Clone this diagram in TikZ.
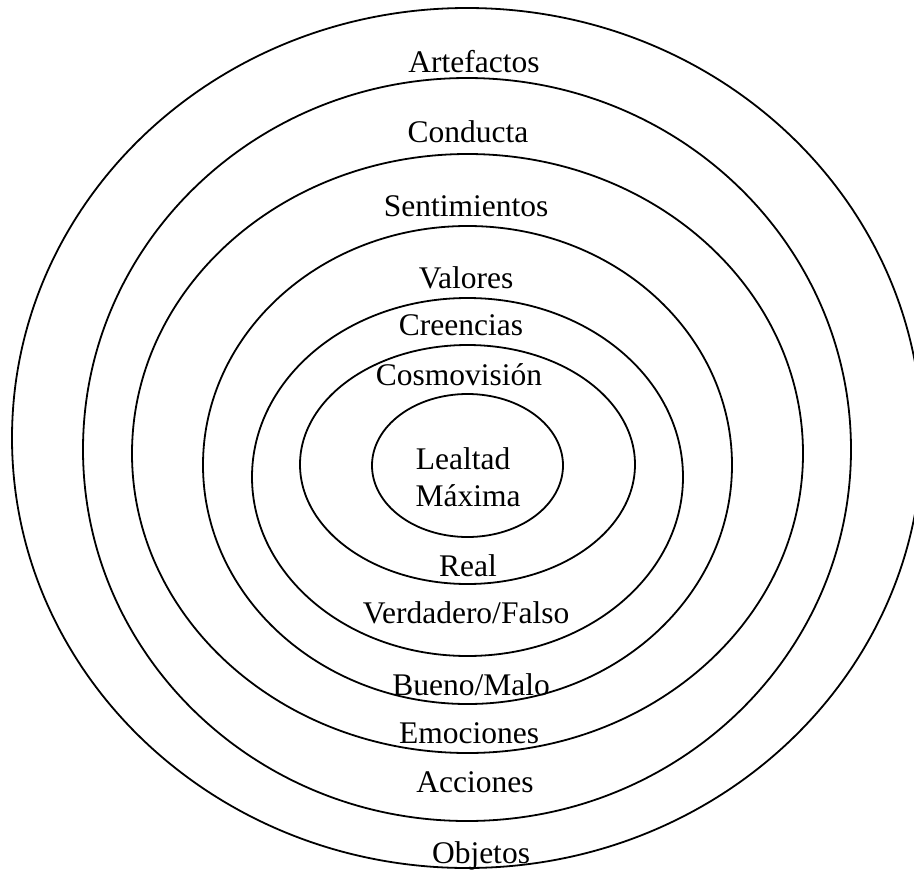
\documentclass[tikz,border=0pt]{standalone}
\usepackage{fontspec}
\setmainfont{Liberation Serif}
\begin{document}
\begin{tikzpicture}[x=1pt,y=-1pt,
  ring/.style={draw=black,line width=1.8pt},
  lbl/.style={anchor=base,inner sep=0pt,font=\fontsize{31.5}{37}\selectfont}]
\useasboundingbox (0,0) rectangle (914,871);
\clip (0,0) rectangle (914,871);
% rings
\draw[ring] (467,438) ellipse [x radius=455, y radius=430];
\draw[ring] (467,449.5) ellipse [x radius=384, y radius=371.5];
\draw[ring] (467.5,453.5) ellipse [x radius=335.5, y radius=299.5];
\draw[ring] (467.5,465) ellipse [x radius=264.5, y radius=239];
\draw[ring] (467.5,477) ellipse [x radius=215.5, y radius=179];
\draw[ring] (467.5,464.5) ellipse [x radius=167.5, y radius=119.5];
\draw[ring] (467.5,465.5) ellipse [x radius=95.5, y radius=71.5];
% labels
\node[lbl] (artefactos) at (474,72) {Artefactos};
\node[lbl] (conducta) at (468,142) {Conducta};
\node[lbl] (sentimientos) at (466,216) {Sentimientos};
\node[lbl] (valores) at (466,288) {Valores};
\node[lbl] (creencias) at (461,335) {Creencias};
\node[lbl] (cosmovision) at (459,385) {Cosmovisión};
\node[lbl] (lealtad) at (463,469) {Lealtad};
\node[lbl] (maxima) at (468,506) {Máxima};
\node[lbl] (real) at (468,576) {Real};
\node[lbl] (verdadero) at (466,623) {Verdadero/Falso};
\node[lbl] (bueno) at (471,695) {Bueno/Malo};
\node[lbl] (emociones) at (469,743) {Emociones};
\node[lbl] (acciones) at (475,792) {Acciones};
\node[lbl] (objetos) at (481,863) {Objetos};
\end{tikzpicture}
\end{document}
